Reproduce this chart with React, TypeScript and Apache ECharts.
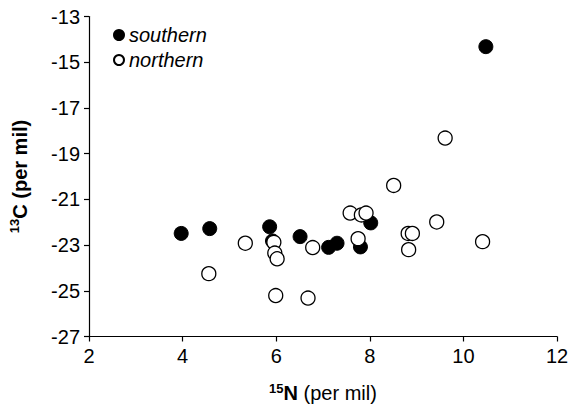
import React, { useEffect, useRef } from "react";
import * as echarts from "echarts";

const southernN = [3.97, 4.58, 5.86, 5.92, 6.51, 7.12, 7.3, 7.8, 8.02, 10.48];
const southernC = [-22.49, -22.28, -22.2, -22.82, -22.63, -23.1, -22.92, -23.08, -22.03, -14.32];

const northernN = [4.56, 5.34, 5.95, 5.97, 6.02, 5.99, 6.68, 6.78, 7.58, 7.82, 7.92, 7.75, 8.83, 8.82, 8.91, 9.43, 10.41, 9.61, 8.51];
const northernC = [-24.25, -22.92, -22.88, -23.35, -23.6, -25.21, -25.32, -23.11, -21.6, -21.68, -21.6, -22.72, -23.2, -22.49, -22.49, -21.99, -22.85, -18.32, -20.39];

const seriesNames = ["southern", "northern"];
const xTicks = { min: 2, max: 12, interval: 2 };
const yTicks = { min: -27, max: -13, interval: 2 };

const FONT = "Liberation Sans, Arial, sans-serif";

export default function App() {
  const ref = useRef<HTMLDivElement>(null);
  useEffect(() => {
    if (!ref.current) return;
    const chart = echarts.init(ref.current, null, { renderer: "svg" });
    const axisCommon = {
      axisLine: { show: true, onZero: false, lineStyle: { color: "#000", width: 1.2 } },
      axisTick: { show: true, inside: false, length: 5, lineStyle: { color: "#000", width: 1.2 } },
      splitLine: { show: false },
      axisLabel: { color: "#000", fontSize: 20, fontFamily: FONT, margin: 9 },
    };
    chart.setOption({
      animation: false,
      backgroundColor: "#fff",
      grid: { left: 88.5, right: 15, top: 16.5, bottom: 65.5, containLabel: false },
      legend: {
        orient: "vertical",
        left: 108,
        top: 20,
        itemWidth: 10,
        itemHeight: 10,
        itemGap: 5,
        icon: "circle",
        data: seriesNames,
        textStyle: { fontSize: 20, fontStyle: "italic", fontFamily: FONT, color: "#000" },
      },
      xAxis: {
        type: "value",
        ...xTicks,
        ...axisCommon,
        name: "{b|15}{n|N}{r| (per mil)}",
        nameLocation: "middle",
        nameGap: 45,
        nameTextStyle: {
          fontFamily: FONT,
          color: "#000",
          rich: {
            b: { fontSize: 13, fontWeight: "bold", fontFamily: FONT, color: "#000", verticalAlign: "top", lineHeight: 20 },
            n: { fontSize: 20, fontWeight: "bold", fontFamily: FONT, color: "#000", lineHeight: 23 },
            r: { fontSize: 20, fontFamily: FONT, color: "#000", lineHeight: 23 },
          },
        },
      },
      yAxis: {
        type: "value",
        ...yTicks,
        ...axisCommon,
        name: "{b|13}{n|C (per mil)}",
        nameLocation: "middle",
        nameGap: 58,
        nameRotate: 90,
        nameTextStyle: {
          fontFamily: FONT,
          color: "#000",
          rich: {
            b: { fontSize: 13, fontWeight: "bold", fontFamily: FONT, color: "#000", verticalAlign: "top", lineHeight: 20 },
            n: { fontSize: 20, fontWeight: "bold", fontFamily: FONT, color: "#000", lineHeight: 23 },
          },
        },
      },
      series: [
        {
          name: seriesNames[0],
          type: "scatter",
          symbol: "circle",
          symbolSize: 14,
          data: southernN.map((x, i) => [x, southernC[i]]),
          itemStyle: { color: "#000", borderColor: "#000", borderWidth: 1, opacity: 1 },
          z: 2,
        },
        {
          name: seriesNames[1],
          type: "scatter",
          symbol: "circle",
          symbolSize: 14,
          data: northernN.map((x, i) => [x, northernC[i]]),
          itemStyle: { color: "#fff", borderColor: "#000", borderWidth: 1.3, opacity: 1 },
          z: 3,
        },
      ],
    });
    return () => chart.dispose();
  }, []);
  return <div ref={ref} style={{ width: 572, height: 408, position: "absolute", left: 0, top: 0 }} />;
}
